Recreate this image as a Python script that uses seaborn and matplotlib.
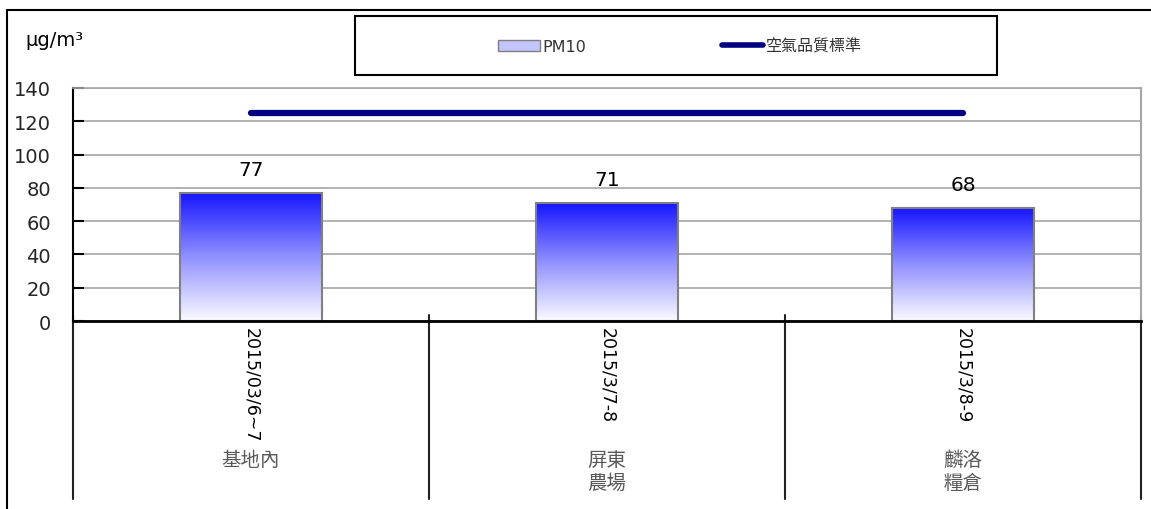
import numpy as np
import pandas as pd
import matplotlib
matplotlib.use("Agg")
import matplotlib.pyplot as plt
import seaborn as sns
from matplotlib.lines import Line2D
from matplotlib.patches import Patch, Rectangle
from matplotlib.colors import LinearSegmentedColormap

# Data
sites = ["基地內", "屏東\n農場", "麟洛\n糧倉"]
dates = ["2015/03/6~7", "2015/3/7-8", "2015/3/8-9"]
pm10 = [77, 71, 68]
standard = [125, 125, 125]

sns.set_theme(style="white")
plt.rcParams["font.family"] = ["DejaVu Sans", "Noto Sans CJK TC"]

df = pd.DataFrame({"site": sites, "pm10": pm10, "std": standard})

fig = plt.figure(figsize=(11.51, 5.10), dpi=100)
ax = fig.add_axes([0.0634, 0.3686, 0.9279, 0.4569])
ax.set_axisbelow(True)

sns.barplot(data=df, x="site", y="pm10", width=0.4, ax=ax, color="blue",
            edgecolor="#808080", linewidth=1.5, errorbar=None)
ax.bar_label(ax.containers[0], padding=10, fontsize=14.5, color="black")

# vertical blue-to-white gradient inside each bar
cmap = LinearSegmentedColormap.from_list("grad", ["#1414ff", "#9090ff", "#fbfbff"])
grad = np.linspace(0, 1, 256).reshape(-1, 1)
for p in ax.patches:
    x, y, w, h = p.get_x(), p.get_y(), p.get_width(), p.get_height()
    p.set_facecolor("none")
    p.set_zorder(2)
    im = ax.imshow(grad, extent=[x, x + w, y, y + h], aspect="auto", cmap=cmap, zorder=1.5)
    im.set_clip_path(p)

sns.pointplot(data=df, x="site", y="std", color="#000080", markers="", errorbar=None,
              linewidth=4.5, ax=ax, solid_capstyle="round")

ax.set_xlim(-0.5, 2.5)
ax.set_ylim(0, 140)
ax.set_yticks(range(0, 141, 20))
ax.yaxis.grid(True, color="#a6a6a6", lw=1.2)
ax.xaxis.grid(False)
ax.set_xticks([0, 1, 2])
ax.set_xticklabels(["", "", ""])
ax.tick_params(axis="x", length=0)
ax.tick_params(axis="y", direction="in", length=8, width=1.5, color="black",
               labelsize=14, pad=16, left=True)
ax.set_xlabel("")
ax.set_ylabel("")

ax.spines["left"].set_color("black")
ax.spines["left"].set_linewidth(1.5)
ax.spines["bottom"].set_color("black")
ax.spines["bottom"].set_linewidth(2)
ax.spines["top"].set_color("#a6a6a6")
ax.spines["top"].set_linewidth(1.2)
ax.spines["right"].set_color("#a6a6a6")
ax.spines["right"].set_linewidth(1.5)

# category separators and two-level labels under the axis
tr = ax.get_xaxis_transform()
for b in [-0.5, 0.5, 1.5, 2.5]:
    ax.plot([b, b], [0.026, -0.764], transform=tr, color="#222222", lw=1.5, clip_on=False)
for i in range(len(sites)):
    ax.text(i, -0.026, dates[i], rotation=270, ha="center", va="top",
            transform=tr, fontsize=12.5, color="black")
    ax.text(i, -0.55, sites[i], ha="center", va="top", transform=tr, fontsize=14,
            color="#595959", family=["Noto Sans CJK TC"], linespacing=1.1)

fig.text(25 / 1151, 1 - 41 / 510, "μg/m³", fontsize=14, va="center", color="black")

# outer chart frame (left and top edges visible)
fig.add_artist(Line2D([7 / 1151, 7 / 1151], [0, 1 - 11 / 510], transform=fig.transFigure,
                      color="black", lw=1.5))
fig.add_artist(Line2D([7 / 1151, 1], [1 - 11 / 510, 1 - 11 / 510], transform=fig.transFigure,
                      color="black", lw=1.5))

# legend box
fig.add_artist(Rectangle((355 / 1151, 1 - 76 / 510), 642 / 1151, 59 / 510, fill=False,
                         edgecolor="black", lw=1.5, transform=fig.transFigure))
handles = [Patch(facecolor="#c4c4ff", edgecolor="#808080", label="PM10"),
           Line2D([], [], color="#000080", lw=4, label="空氣品質標準")]
fig.legend(handles=handles, loc="center", bbox_to_anchor=(680 / 1151, 1 - 47 / 510),
           ncol=2, frameon=False, fontsize=11.5, handlelength=2.6, columnspacing=8.5,
           handletextpad=0.15, labelcolor="#333333")

fig.savefig("out.png", dpi=100)
